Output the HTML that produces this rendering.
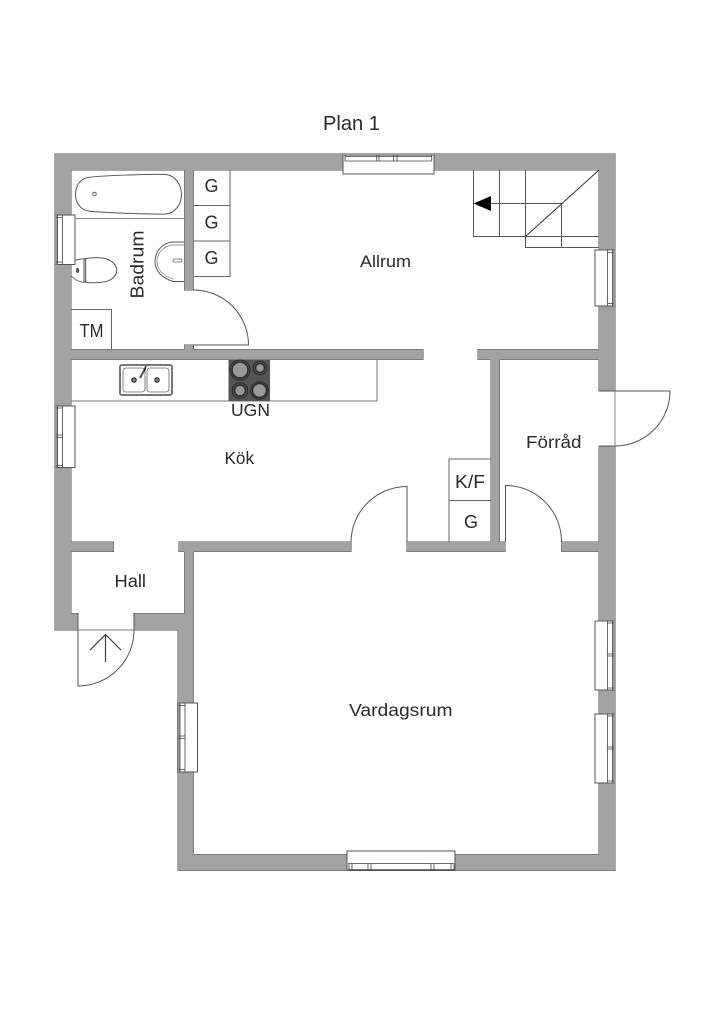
<!DOCTYPE html>
<html><head><meta charset="utf-8"><style>
html,body{margin:0;padding:0;background:#fff}
svg{display:block}
text{font-family:"Liberation Sans",sans-serif;fill:#2a2a2a}
</style></head><body>
<svg width="724" height="1024" viewBox="0 0 724 1024" xmlns="http://www.w3.org/2000/svg">
<rect width="724" height="1024" fill="#fff"/>
<defs><g id="w">
<rect x="55" y="154" width="560" height="16"/>
<rect x="55" y="154" width="16" height="476"/>
<rect x="55" y="613.5" width="23" height="16.5"/>
<rect x="599" y="154" width="16" height="716"/>
<rect x="178" y="854.5" width="437" height="16"/>
<rect x="178" y="613.5" width="15.5" height="257"/>
<rect x="184.5" y="542" width="9" height="72"/>
<rect x="134" y="613.5" width="45" height="16.5"/>
<rect x="184.5" y="170" width="9" height="120"/>
<rect x="184.5" y="345" width="9" height="5"/>
<rect x="71" y="349.5" width="352" height="10"/>
<rect x="478" y="349.5" width="121" height="10"/>
<rect x="491" y="359" width="8.5" height="184"/>
<rect x="407" y="542" width="98" height="9.5"/>
<rect x="561.5" y="542" width="38" height="9.5"/>
<rect x="179" y="542" width="172" height="9.5"/>
<rect x="71" y="542" width="42.5" height="9.5"/>
</g></defs>
<use href="#w" fill="#a2a2a2" stroke="#555" stroke-width="1"/>
<use href="#w" fill="#a2a2a2"/>

<g fill="none" stroke="#555" stroke-width="1">
<!-- right exterior door -->
<rect x="598.5" y="391" width="17" height="55" fill="#fff" stroke="none"/>
<path d="M599 391H670A55 55 0 0 1 615 446H599" stroke="#555"/>
<path d="M615 391V446" stroke="#888"/>
<!-- entry door -->
<rect x="78" y="613" width="56" height="18" fill="#fff" stroke="none"/>
<path d="M78 630H134" stroke="#777"/>
<path d="M78 613V686A56 56 0 0 0 134 630V613" stroke="#555"/>
<path d="M105.500 662V635M90 650L105.500 634.500L121 650" stroke="#333" stroke-width="1.100"/>
<!-- bath door -->
<path d="M193.500 290A55 55 0 0 1 248.500 345H193.500V349" stroke="#555"/>
<!-- kitchen door -->
<path d="M351 542A56 56 0 0 1 407 486.500V542" stroke="#555"/>
<!-- forrad door -->
<path d="M505.500 542V485.500A56 56 0 0 1 561.500 542" stroke="#555"/>

<!-- top window -->
<rect x="343" y="154.500" width="91" height="19.500" fill="#fff"/>
<rect x="343" y="154" width="91" height="2" fill="#9a9a9a" stroke="none"/>
<path d="M345 155V161M376.700 155V161M379 155V161M393.700 155V161M397 155V161M431.700 155V161M345 156.500H431.700M345 161H431.700" stroke="#444" stroke-width=".8"/>
<!-- right windows -->
<rect x="595" y="250" width="20" height="56" fill="#fff"/>
<rect x="613" y="250" width="2" height="56" fill="#9a9a9a" stroke="none"/>
<path d="M607.500 250V306M612.500 250V306M607.500 252.500H614M607.500 303.500H614" stroke="#444" stroke-width=".8"/>
<rect x="595" y="621" width="20" height="69" fill="#fff"/>
<rect x="613" y="621" width="2" height="69" fill="#9a9a9a" stroke="none"/>
<path d="M607.500 621V690M612.500 621V690M607.500 623H614M607.500 654H614M607.500 656H614M607.500 688H614" stroke="#444" stroke-width=".8"/>
<rect x="595" y="714" width="20" height="69" fill="#fff"/>
<rect x="613" y="714" width="2" height="69" fill="#9a9a9a" stroke="none"/>
<path d="M607.500 714V783M612.500 714V783M607.500 716H614M607.500 747H614M607.500 749H614M607.500 781H614" stroke="#444" stroke-width=".8"/>
<!-- left windows -->
<rect x="55" y="215" width="20" height="49.500" fill="#fff"/>
<rect x="55" y="215" width="2.500" height="49.500" fill="#9a9a9a" stroke="none"/>
<path d="M57.500 215V264.500M62.500 215V264.500M56 217.500H62.500M56 262H62.500" stroke="#444" stroke-width=".8"/>
<rect x="55" y="406" width="20" height="61.500" fill="#fff"/>
<rect x="55" y="406" width="2.500" height="61.500" fill="#9a9a9a" stroke="none"/>
<path d="M57.500 406V467.500M62.500 406V467.500M56 408H62.500M56 435H62.500M56 437.500H62.500M56 465.500H62.500" stroke="#444" stroke-width=".8"/>
<rect x="177.500" y="703" width="20" height="69" fill="#fff"/>
<rect x="177.500" y="703" width="2.500" height="69" fill="#9a9a9a" stroke="none"/>
<path d="M180 703V772M185 703V772M178.500 705.500H185M178.500 736H185M178.500 738.500H185M178.500 769.500H185" stroke="#444" stroke-width=".8"/>
<!-- bottom window -->
<rect x="347" y="851" width="108" height="19.500" fill="#fff"/>
<path d="M348 863.500H454M348 869.500H454M349 863.500V870M352 863.500V870M368 863.500V870M371 863.500V870M431 863.500V870M434 863.500V870M451 863.500V870M454 863.500V870" stroke="#444" stroke-width=".8"/>

<!-- cabinets -->
<path d="M193.500 205.500H230M193.500 241H230M193.500 276.500H230V170" stroke="#666"/>
<path d="M71 309.500H111.500V349.500" stroke="#666"/>
<path d="M71 401H377V360" stroke="#777"/>
<path d="M449 542V459H491M449 500.500H491" stroke="#666"/>
<!-- stairs -->
<path d="M473.500 170V236.500H599M499.500 170V236.500M525.500 170V247.500H599M561.500 203.500V247.500M490 203.500H561.500" stroke="#555"/>
<path d="M525.500 236.500L599 170" stroke="#333"/>
<path d="M473.500 203.500L491 196V211Z" fill="#000" stroke="none"/>
<!-- bath -->
<path d="M75 218.500H184.500" stroke="#888"/>
<path d="M88 177.500C100 175.500 150 174 166 174.500C176 175.500 181.500 186 181.500 194.500C181.500 203 176 213 166 214C150 214.500 100 212.500 88 211C80 209.500 75.500 202 75.500 194.500C75.500 186 80 179 88 177.500Z" stroke="#555"/>
<circle cx="94.500" cy="194" r="1.800" stroke="#666"/>
<!-- basin -->
<path d="M184.500 242H172C162 243 155 252 155 261.500C155 271 162 278 173 281.500H184.500" stroke="#555"/>
<path d="M184.500 245H172C164 246 157 253 157 261.500C157 270 164 276 173 279" stroke="#777" stroke-width=".7"/>
<rect x="173" y="259" width="9" height="3" rx="1.200" fill="#fff" stroke="#666" stroke-width=".7"/>
<!-- toilet -->
<path d="M84 258.800C92 257.500 100 257.300 105 258.500C113 260.500 116.700 265.500 116.700 270.500C116.700 275.500 112.500 280 105 281.800C99 283 91 283 84 282" fill="#fff" stroke="#555"/>
<path d="M84 259V282.500M85.700 258.800V282.300" stroke="#222" stroke-width=".8"/>
<path d="M75 260.500C77 259.500 80 259 84 258.800M71.500 276C74 279.500 78 281.500 84 282.500" stroke="#555" stroke-width=".8"/>
<ellipse cx="77.500" cy="270.500" rx="1.200" ry="2" fill="#666" stroke="#333" stroke-width=".7"/>
<!-- sink -->
<rect x="120" y="365" width="52" height="30" rx="2" fill="#fff" stroke="#777" stroke-width="2"/>
<rect x="123" y="368" width="22" height="24" rx="3" stroke="#666" stroke-width=".8"/>
<rect x="147" y="368" width="22" height="24" rx="3" stroke="#666" stroke-width=".8"/>
<circle cx="134" cy="380" r="2.200" fill="#888" stroke="#222" stroke-width="1.100"/>
<circle cx="157" cy="380" r="2.200" fill="#888" stroke="#222" stroke-width="1.100"/>
<path d="M140 378L145.500 368" stroke="#555" stroke-width="2"/>
<path d="M144 371L146 366" stroke="#222" stroke-width="1.500"/>
</g>
<!-- stove -->
<rect x="228.500" y="359.500" width="41.500" height="41.500" fill="#555"/>
<g fill="#999" stroke="#2a2a2a" stroke-width="1.500">
<circle cx="240" cy="370" r="8"/><circle cx="260" cy="368" r="4.500"/>
<circle cx="240" cy="390.500" r="5.500"/><circle cx="259.500" cy="390.500" r="7"/>
</g>
<g fill="none" stroke="#2a2a2a" stroke-width="1">
<circle cx="240" cy="370" r="10"/><circle cx="260" cy="368" r="6.800"/>
<circle cx="240" cy="390.500" r="7.800"/><circle cx="259.500" cy="390.500" r="8.800"/>
</g>
<!-- labels -->
<text x="323" y="130" font-size="20.500" textLength="57" lengthAdjust="spacingAndGlyphs">Plan 1</text>
<text x="360" y="267" font-size="17" textLength="51" lengthAdjust="spacingAndGlyphs">Allrum</text>
<text transform="translate(143.500,298.500) rotate(-90)" font-size="18" textLength="68" lengthAdjust="spacingAndGlyphs">Badrum</text>
<text x="79.500" y="337" font-size="18" textLength="24" lengthAdjust="spacingAndGlyphs">TM</text>
<text x="204.500" y="192" font-size="18" textLength="14" lengthAdjust="spacingAndGlyphs">G</text>
<text x="204.500" y="228.500" font-size="18" textLength="14" lengthAdjust="spacingAndGlyphs">G</text>
<text x="204.500" y="264" font-size="18" textLength="14" lengthAdjust="spacingAndGlyphs">G</text>
<text x="231" y="416" font-size="17.500" textLength="39" lengthAdjust="spacingAndGlyphs">UGN</text>
<text x="224.500" y="464" font-size="17.500" textLength="29.500" lengthAdjust="spacingAndGlyphs">Kök</text>
<text x="114.500" y="587" font-size="17.500" textLength="31.500" lengthAdjust="spacingAndGlyphs">Hall</text>
<text x="455" y="488" font-size="18" textLength="30" lengthAdjust="spacingAndGlyphs">K/F</text>
<text x="464" y="528" font-size="18" textLength="14" lengthAdjust="spacingAndGlyphs">G</text>
<text x="526" y="448" font-size="17.500" textLength="55.500" lengthAdjust="spacingAndGlyphs">Förråd</text>
<text x="349" y="716" font-size="17.500" textLength="103.500" lengthAdjust="spacingAndGlyphs">Vardagsrum</text>
</svg>
</body></html>
